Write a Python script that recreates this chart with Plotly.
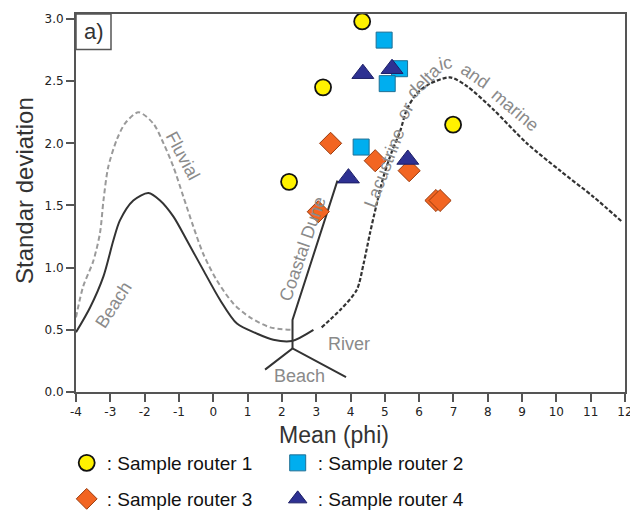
import plotly.graph_objects as go

# ---------------- data ----------------
r1_mean = [4.34, 3.20, 6.99, 2.21]
r1_sd = [2.98, 2.45, 2.15, 1.69]
r2_mean = [4.98, 5.43, 5.07, 4.31]
r2_sd = [2.83, 2.60, 2.48, 1.97]
r3_mean = [3.42, 4.72, 5.71, 6.49, 6.61, 3.06]
r3_sd = [2.00, 1.86, 1.78, 1.54, 1.54, 1.45]
r4_mean = [4.36, 5.21, 5.67, 3.94]
r4_sd = [2.56, 2.60, 1.87, 1.72]

beach_x = [-4.0, -3.59, -3.20, -2.91, -2.72, -2.33, -1.89, -1.55, -1.16, -0.77, -0.29, 0.20, 0.69, 1.27, 1.75, 2.29, 2.92]
beach_y = [0.48, 0.68, 0.93, 1.22, 1.38, 1.54, 1.60, 1.54, 1.41, 1.22, 0.98, 0.74, 0.55, 0.47, 0.42, 0.41, 0.50]

fluvial_x = [-4.0, -3.79, -3.50, -3.30, -3.20, -3.06, -2.81, -2.57, -2.18, -1.75, -1.45, -1.16, -0.87, -0.58, -0.29, 0.10, 0.59, 1.07, 1.66, 2.30]
fluvial_y = [0.60, 0.85, 1.05, 1.28, 1.54, 1.81, 2.03, 2.16, 2.25, 2.16, 2.00, 1.81, 1.57, 1.33, 1.11, 0.90, 0.71, 0.60, 0.52, 0.50]

marine_x = [3.16, 3.70, 4.18, 4.38, 4.57, 4.77, 4.96, 5.20, 5.45, 5.64, 5.93, 6.32, 6.90, 7.39, 8.17, 9.14, 10.11, 11.08, 11.91]
marine_y = [0.52, 0.66, 0.82, 1.03, 1.28, 1.52, 1.73, 1.93, 2.10, 2.27, 2.40, 2.48, 2.53, 2.46, 2.27, 2.00, 1.78, 1.57, 1.37]

dune_x = [2.31, 2.31, 3.62]
dune_y = [0.35, 0.58, 1.70]
beach_branch_x = [1.51, 2.31, 3.87]
beach_branch_y = [0.18, 0.35, 0.12]

x_ticks = list(range(-4, 13))
y_ticks = [0.0, 0.5, 1.0, 1.5, 2.0, 2.5, 3.0]

series_names = [": Sample router 1", ": Sample router 2", ": Sample router 3", ": Sample router 4"]

# ---------------- figure ----------------
fig = go.Figure()

line_dark = "#333333"
fig.add_trace(go.Scatter(x=fluvial_x, y=fluvial_y, mode="lines", showlegend=False, hoverinfo="skip",
                         line=dict(color="#9a9a9a", width=2, dash="5px,3px", shape="spline", smoothing=0.8)))
fig.add_trace(go.Scatter(x=beach_x, y=beach_y, mode="lines", showlegend=False, hoverinfo="skip",
                         line=dict(color=line_dark, width=2, shape="spline", smoothing=0.8)))
fig.add_trace(go.Scatter(x=marine_x, y=marine_y, mode="lines", showlegend=False, hoverinfo="skip",
                         line=dict(color=line_dark, width=2.2, dash="4px,2px", shape="spline", smoothing=0.8)))
fig.add_trace(go.Scatter(x=dune_x, y=dune_y, mode="lines", showlegend=False, hoverinfo="skip",
                         line=dict(color=line_dark, width=2)))
fig.add_trace(go.Scatter(x=beach_branch_x, y=beach_branch_y, mode="lines", showlegend=False, hoverinfo="skip",
                         line=dict(color=line_dark, width=2)))

fig.add_trace(go.Scatter(x=r1_mean, y=r1_sd, mode="markers", name=series_names[0], legend="legend",
                         marker=dict(symbol="circle", size=16, color="#FFF200", line=dict(color="#111111", width=1.8))))
fig.add_trace(go.Scatter(x=r2_mean, y=r2_sd, mode="markers", name=series_names[1], legend="legend",
                         marker=dict(symbol="square", size=16, color="#00AEEF", line=dict(color="#1f6f94", width=1))))
fig.add_trace(go.Scatter(x=r3_mean, y=r3_sd, mode="markers", name=series_names[2], legend="legend2",
                         marker=dict(symbol="diamond", size=17, color="#F26522", line=dict(color="#9a3a0c", width=1))))
fig.add_trace(go.Scatter(x=r4_mean, y=r4_sd, mode="markers", name=series_names[3], legend="legend2",
                         marker=dict(symbol="triangle-up", size=19, color="#2E3192", line=dict(color="#1c1e66", width=1))))

label_font = dict(family="Liberation Sans, Arial", size=18, color="#8a8a8a")
labels = [
    ("Fluvial", -0.88, 1.90, 62),
    ("Beach", -2.91, 0.70, -57),
    ("Coastal Dune", 2.60, 1.15, -71),
    ("River", 3.97, 0.39, 0),
    ("Beach", 2.51, 0.13, 0),
    ("Lacustrine", 4.99, 1.80, -69),
    ("or", 5.59, 2.26, -60),
    ("delta", 6.15, 2.50, -45),
    ("ic", 6.77, 2.645, -12),
    ("and", 7.63, 2.54, 35),
    ("marine", 8.80, 2.27, 40),
]
for txt, lx, ly, ang in labels:
    fig.add_annotation(x=lx, y=ly, xref="x", yref="y", text=txt, showarrow=False,
                       xanchor="center", yanchor="middle", textangle=ang, font=label_font)

# panel label box
fig.add_shape(type="rect", xref="paper", yref="paper", x0=0, x1=35/549, y0=1-35.5/378, y1=1,
              line=dict(color="#555555", width=1.5), fillcolor="white")
fig.add_annotation(x=17.5/549, y=1-17.5/378, xref="paper", yref="paper", text="a)", showarrow=False,
                   xanchor="center", yanchor="middle",
                   font=dict(family="Liberation Sans, Arial", size=22, color="#333333"))

# axis titles
fig.add_annotation(x=(334-76)/549, y=(392-435)/378, xref="paper", yref="paper", text="Mean (phi)",
                   showarrow=False, xanchor="center", yanchor="middle",
                   font=dict(family="Liberation Sans, Arial", size=23, color="#333333"))
fig.add_annotation(x=(24-76)/549, y=(392-191)/378, xref="paper", yref="paper", text="Standar deviation",
                   showarrow=False, textangle=-90, xanchor="center", yanchor="middle",
                   font=dict(family="Liberation Sans, Arial", size=24, color="#333333"))

axis_common = dict(showgrid=False, zeroline=False, showline=True, linecolor="#555555", linewidth=2,
                   mirror=True, ticks="outside", ticklen=8, tickwidth=1.5, tickcolor="#555555",
                   ticklabeloverflow="allow",
                   tickfont=dict(family="DejaVu Sans", size=12, color="#222222"))

legend_common = dict(orientation="h", xanchor="left", yanchor="middle", bgcolor="rgba(0,0,0,0)",
                     font=dict(family="Liberation Sans, Arial", size=19, color="#111111"),
                     entrywidth=166, entrywidthmode="pixels", itemclick=False)

fig.update_layout(
    width=630, height=510,
    margin=dict(l=76, r=5, t=14, b=118, autoexpand=False),
    plot_bgcolor="white", paper_bgcolor="white",
    xaxis=dict(range=[-4, 12], tickvals=x_ticks, ticktext=[str(v) for v in x_ticks], **axis_common),
    yaxis=dict(range=[0, 3.04], tickvals=y_ticks, ticktext=[f"{v:.1f}" for v in y_ticks], **axis_common),
    legend=dict(x=(66.7-76)/549, y=(392-463)/378, **legend_common),
    legend2=dict(x=(66.7-76)/549, y=(392-499)/378, **legend_common),
)

fig.write_html("out.html", config={"displayModeBar": False},
               post_script="document.body.style.margin='0px';")
